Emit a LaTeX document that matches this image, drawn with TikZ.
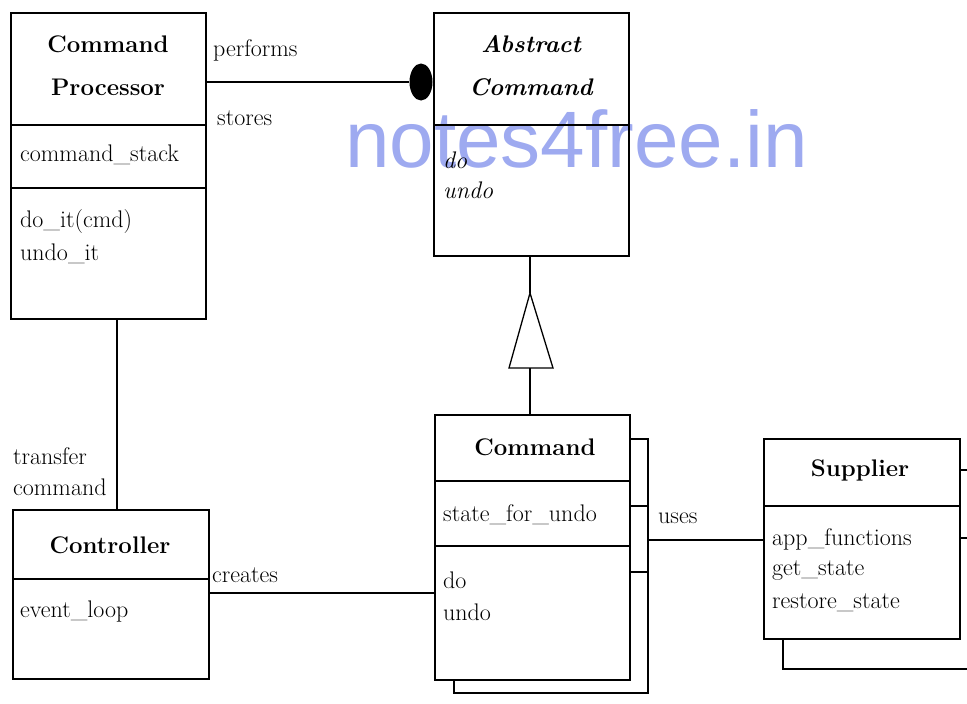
\documentclass[tikz,border=0pt]{standalone}
\usepackage{fontspec}
\newfontfamily\wmfont{Liberation Sans}
\usetikzlibrary{calc,shapes.geometric}
\definecolor{wmblue}{RGB}{158,170,240}
\tikzset{
  box/.style={draw, line width=1.6pt, inner sep=0pt, anchor=north west},
  sep/.style={line width=1.4pt},
  conn/.style={line width=1.3pt},
  ttl/.style={font=\fontsize{24}{43}\selectfont\bfseries, align=center, inner sep=0pt},
  attr/.style={font=\fontsize{24}{30}\selectfont, anchor=west, inner sep=0pt},
  lbl/.style={font=\fontsize{24}{30}\selectfont, anchor=west, inner sep=0pt},
}
\begin{document}
\begin{tikzpicture}[x=1pt,y=-1pt]
\useasboundingbox (0,0) rectangle (967,704);
% watermark
\node[font=\wmfont\fontsize{80}{82}\selectfont, text=wmblue, anchor=base west, inner sep=0pt] (wm) at (345,167) {notes4free.in};

% Command Processor
\node[box, minimum width=195pt, minimum height=306pt] (cp) at (10,12) {};
\draw[sep] ($(cp.north west)+(0,113)$) -- ($(cp.north east)+(0,113)$);
\draw[sep] ($(cp.north west)+(0,176)$) -- ($(cp.north east)+(0,176)$);
\node[ttl] (cpt) at (108,66) {Command\\Processor};
\node[attr] (cpa1) at (20,155) {command\_stack};
\node[attr] (cpo1) at (20,222) {do\_it(cmd)};
\node[attr] (cpo2) at (20,254) {undo\_it};

% Abstract Command
\node[box, minimum width=195pt, minimum height=243pt] (ac) at (433,12) {};
\draw[sep] ($(ac.north west)+(0,113)$) -- ($(ac.north east)+(0,113)$);
\node[ttl, font=\fontsize{24}{43}\selectfont\bfseries\itshape] (act) at (531,66) {Abstract\\Command};
\node[attr, font=\fontsize{24}{30}\selectfont\itshape] (aco1) at (443,160) {do};
\node[attr, font=\fontsize{24}{30}\selectfont\itshape] (aco2) at (443,190) {undo};

% Command (with stacked copy behind)
\node[box, minimum width=195pt, minimum height=265pt] (cmd) at (434,414) {};
\draw[sep] ($(cmd.north west)+(0,67)$) -- ($(cmd.north east)+(0,67)$);
\draw[sep] ($(cmd.north west)+(0,132)$) -- ($(cmd.north east)+(0,132)$);
\node[ttl] (cmdt) at (535,447) {Command};
\node[attr] (cmda1) at (443,515) {state\_for\_undo};
\node[attr] (cmdo1) at (443,580) {do};
\node[attr] (cmdo2) at (443,612) {undo};
\coordinate (cs1) at (648,439);
\coordinate (cs2) at (648,693);
\coordinate (cs3) at (454,693);
\draw[box] (cmd.north east |- cs1) -- (cs1) -- (cs2) -- (cs3) -- (cmd.south west -| cs3);
\draw[sep] ($(cmd.north east)+(0,92)$) -- ($(cs1)+(0,67)$);
\draw[sep] ($(cmd.north east)+(0,158)$) -- ($(cs1)+(0,133)$);

% Controller
\node[box, minimum width=196pt, minimum height=169pt] (ctl) at (12,509) {};
\draw[sep] ($(ctl.north west)+(0,70)$) -- ($(ctl.north east)+(0,70)$);
\node[ttl] (ctlt) at (110,545) {Controller};
\node[attr] (ctla1) at (20,612) {event\_loop};

% Supplier (with stacked copy behind)
\node[box, minimum width=196pt, minimum height=200pt] (sup) at (763,438) {};
\draw[sep] ($(sup.north west)+(0,68)$) -- ($(sup.north east)+(0,68)$);
\node[ttl] (supt) at (860,470) {Supplier};
\node[attr] (supo1) at (772,539) {app\_functions};
\node[attr] (supo2) at (772,571) {get\_state};
\node[attr] (supo3) at (772,603) {restore\_state};
\coordinate (ss1) at (967,470);
\coordinate (ss2) at (967,538);
\coordinate (ss3) at (783,669);
\coordinate (ss4) at (967,669);
\draw[sep] (sup.east |- ss1) -- (ss1);
\draw[sep] (sup.east |- ss2) -- (ss2);
\draw[box] (sup.south west -| ss3) -- (ss3) -- (ss4);

% performs / stores association with filled dot
\coordinate (pfy) at (0,82);
\node[ellipse, fill=black, minimum width=23pt, minimum height=37pt, inner sep=0pt] (dot) at (421,82) {};
\draw[conn] (cp.east |- pfy) -- (dot.west);
\node[lbl] (lperf) at (213,50) {performs};
\node[lbl] (lstor) at (217,118) {stores};

% transfer command
\coordinate (tcx) at (117,0);
\draw[conn] (cp.south -| tcx) -- (ctl.north -| tcx);
\node[lbl] (ltr1) at (13,456) {transfer};
\node[lbl] (ltr2) at (13,487) {command};

% creates
\coordinate (cry) at (0,593);
\draw[conn] (ctl.east |- cry) -- (cmd.west |- cry);
\node[lbl] (lcre) at (212,575) {creates};

% generalisation
\coordinate (tA) at (530,293);
\coordinate (tL) at (509,368);
\coordinate (tR) at (553,368);
\coordinate (tB) at (530,368);
\draw[conn] (ac.south -| tA) -- (tA);
\draw[conn] (tA) -- (tR) -- (tL) -- cycle;
\draw[conn] (tB) -- (cmd.north -| tB);

% uses
\coordinate (usy) at (0,540);
\draw[conn] (cs1 |- usy) -- (sup.west |- usy);
\node[lbl] (luse) at (658,518) {uses};
\end{tikzpicture}
\end{document}
